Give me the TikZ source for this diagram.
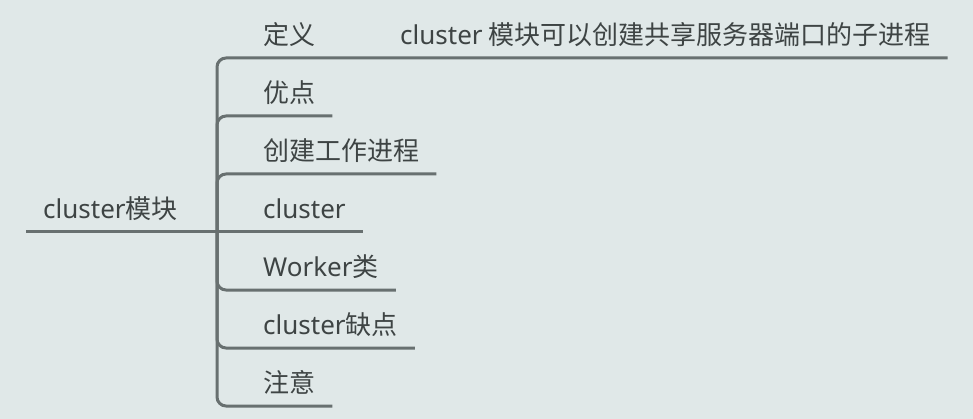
\documentclass[tikz,border=0pt]{standalone}
\usepackage{fontspec}
\newfontfamily\cjk{Noto Sans CJK SC}
\newfontfamily\lat{Noto Sans}
\usetikzlibrary{positioning}

\definecolor{mapbg}{HTML}{E0E8E8}
\definecolor{mapline}{HTML}{687070}
\definecolor{maptext}{HTML}{3E4444}

\begin{document}
\begin{tikzpicture}[x=1pt,y=-1pt,
  topic/.style={anchor=south west,inner xsep=17pt,inner ysep=0pt,minimum height=47pt,
    text=maptext,font=\cjk\fontsize{26}{30}\selectfont},
  branch/.style={draw=mapline,line width=3pt,rounded corners=9pt}]

  \fill [mapbg] (0,0) rectangle (973,419);
  \useasboundingbox (0,0) rectangle (973,419);

  \node [topic] (root) at (26,232) {{\lat cluster}模块};
  \coordinate (hub) at (217,232);

  \node [topic] (def) at (246,58) {定义};
  \node [topic] (defnote) at (383,58) {{\lat cluster} 模块可以创建共享服务器端口的子进程};
  \node [topic] (pro) at (246,116) {优点};
  \node [topic] (worker) at (246,174) {创建工作进程};
  \node [topic] (cluster) at (246,232) {\lat cluster};
  \node [topic] (wclass) at (246,290) {{\lat Worker}类};
  \node [topic] (con) at (246,348) {{\lat cluster}缺点};
  \node [topic] (note) at (246,406) {注意};

  \path [branch] (root.south west) -- (hub);

  \path [branch]
    (hub) |- (def.south east) -- (defnote.south east);
  \path [branch] (hub) |- (pro.south east);
  \path [branch] (hub) |- (worker.south east);
  \path [branch] (hub) -- (cluster.south east);
  \path [branch] (hub) |- (wclass.south east);
  \path [branch] (hub) |- (con.south east);
  \path [branch] (hub) |- (note.south east);

\end{tikzpicture}
\end{document}
